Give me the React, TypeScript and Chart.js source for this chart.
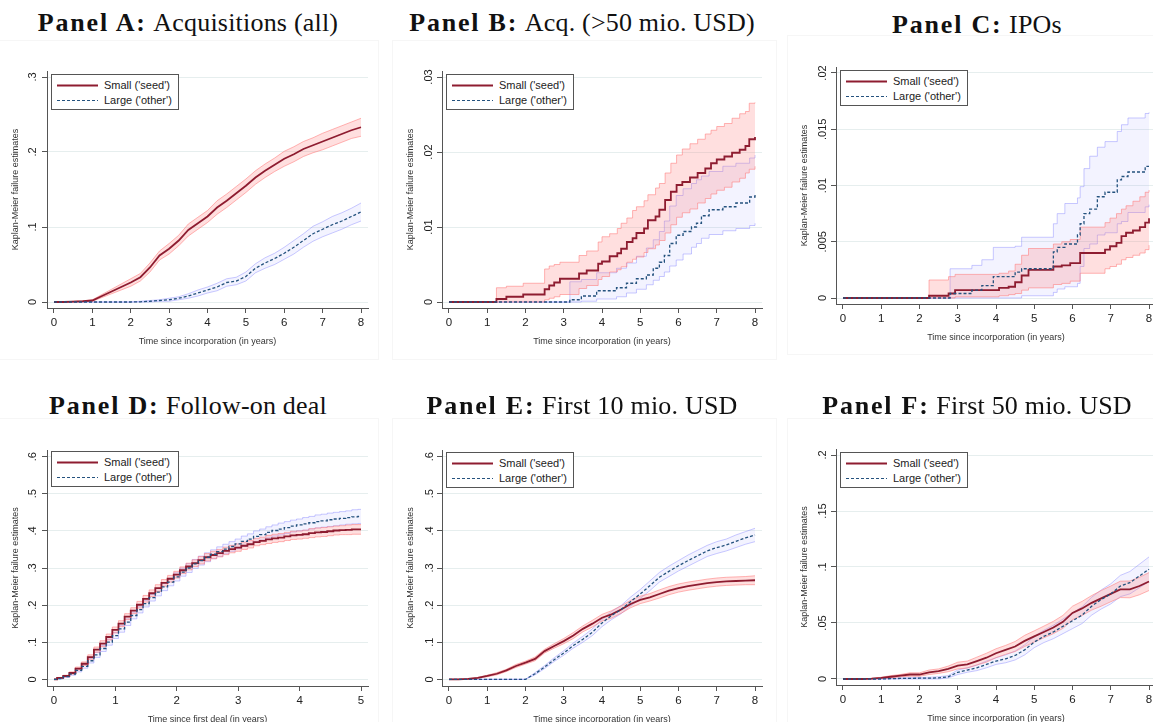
import React, { useEffect, useRef } from "react";
import { Chart, registerables } from "chart.js";
Chart.register(...registerables);
Chart.defaults.font.family = "'Liberation Sans', Arial, Helvetica, sans-serif";

// ---------- shared axes / grids ----------
const GRID_Q = [0, 0.25, 0.5, 0.75, 1, 1.25, 1.5, 1.75, 2, 2.25, 2.5, 2.75, 3, 3.25, 3.5, 3.75, 4, 4.25, 4.5, 4.75, 5, 5.25, 5.5, 5.75, 6, 6.25, 6.5, 6.75, 7, 7.25, 7.5, 7.75, 8];
const GRID_D = [0, 0.1, 0.2, 0.3, 0.4, 0.5, 0.6, 0.7, 0.8, 0.9, 1, 1.1, 1.2, 1.3, 1.4, 1.5, 1.6, 1.7, 1.8, 1.9, 2, 2.1, 2.2, 2.3, 2.4, 2.5, 2.6, 2.7, 2.8, 2.9, 3, 3.1, 3.2, 3.3, 3.4, 3.5, 3.6, 3.7, 3.8, 3.9, 4, 4.1, 4.2, 4.3, 4.4, 4.5, 4.6, 4.7, 4.8, 4.9, 5];
const X_TICKS_8 = [0, 1, 2, 3, 4, 5, 6, 7, 8];
const X_TICKS_5 = [0, 1, 2, 3, 4, 5];
const Y_TICKS_A = [0, 0.1, 0.2, 0.3];
const Y_LABELS_A = ["0", ".1", ".2", ".3"];
const Y_TICKS_B = [0, 0.01, 0.02, 0.03];
const Y_LABELS_B = ["0", ".01", ".02", ".03"];
const Y_TICKS_C = [0, 0.005, 0.01, 0.015, 0.02];
const Y_LABELS_C = ["0", ".005", ".01", ".015", ".02"];
const Y_TICKS_DE = [0, 0.1, 0.2, 0.3, 0.4, 0.5, 0.6];
const Y_LABELS_DE = ["0", ".1", ".2", ".3", ".4", ".5", ".6"];
const Y_TICKS_F = [0, 0.05, 0.1, 0.15, 0.2];
const Y_LABELS_F = ["0", ".05", ".1", ".15", ".2"];
const SERIES_NAMES = ["Small ('seed')", "Large ('other')"];
const Y_TITLE = "Kaplan-Meier failure estimates";
const X_TITLE_INC = "Time since incorporation (in years)";
const X_TITLE_FIRST = "Time since first deal (in years)";

// ---------- Panel A: Acquisitions (all) ----------
const A_SEED_EST = [0, 0, 0.0005, 0.001, 0.002, 0.008, 0.014, 0.02, 0.026, 0.033, 0.046, 0.062, 0.071, 0.082, 0.096, 0.105, 0.114, 0.126, 0.135, 0.145, 0.155, 0.166, 0.175, 0.183, 0.191, 0.197, 0.204, 0.209, 0.214, 0.219, 0.224, 0.229, 0.233];
const A_SEED_LO = [0, 0, 0, 0.0005, 0.001, 0.006, 0.011, 0.016, 0.021, 0.028, 0.04, 0.056, 0.064, 0.075, 0.088, 0.097, 0.106, 0.117, 0.126, 0.136, 0.146, 0.157, 0.166, 0.174, 0.181, 0.187, 0.194, 0.199, 0.203, 0.208, 0.213, 0.218, 0.221];
const A_SEED_HI = [0, 0, 0.001, 0.0015, 0.003, 0.01, 0.017, 0.024, 0.031, 0.038, 0.052, 0.068, 0.078, 0.089, 0.104, 0.113, 0.122, 0.135, 0.144, 0.154, 0.164, 0.175, 0.184, 0.192, 0.201, 0.207, 0.214, 0.219, 0.225, 0.23, 0.235, 0.24, 0.245];
const A_OTHER_EST = [0, 0, 0, 0, 0, 0, 0, 0, 0, 0.0003, 0.001, 0.002, 0.003, 0.005, 0.008, 0.012, 0.016, 0.02, 0.026, 0.028, 0.034, 0.045, 0.052, 0.058, 0.065, 0.073, 0.082, 0.091, 0.097, 0.103, 0.108, 0.114, 0.12];
const A_OTHER_LO = [0, 0, 0, 0, 0, 0, 0, 0, 0, 0, 0, 0.001, 0.001, 0.003, 0.005, 0.008, 0.012, 0.015, 0.021, 0.023, 0.028, 0.039, 0.045, 0.05, 0.057, 0.064, 0.073, 0.081, 0.087, 0.092, 0.097, 0.103, 0.108];
const A_OTHER_HI = [0, 0, 0, 0, 0, 0, 0, 0, 0, 0.001, 0.002, 0.003, 0.005, 0.007, 0.011, 0.016, 0.02, 0.025, 0.031, 0.033, 0.04, 0.051, 0.059, 0.065, 0.073, 0.082, 0.091, 0.101, 0.107, 0.114, 0.119, 0.125, 0.132];

// ---------- Panel B: Acq. (>50 mio. USD) ----------
const B_SEED_T = [0, 1.24, 1.5, 1.94, 2.5, 2.62, 2.75, 2.9, 3.4, 3.6, 3.9, 4.0, 4.2, 4.4, 4.5, 4.65, 4.8, 4.9, 5.1, 5.2, 5.4, 5.5, 5.65, 5.8, 5.95, 6.1, 6.3, 6.5, 6.7, 6.85, 7.0, 7.2, 7.4, 7.6, 7.75, 7.85, 8.0];
const B_SEED_EST = [0, 0.0004, 0.0007, 0.001, 0.0017, 0.0022, 0.0026, 0.0031, 0.0038, 0.0042, 0.0051, 0.0054, 0.0061, 0.0065, 0.0071, 0.008, 0.0085, 0.0092, 0.0098, 0.0109, 0.0114, 0.0123, 0.0136, 0.0147, 0.0156, 0.016, 0.0166, 0.0172, 0.0178, 0.0185, 0.019, 0.0194, 0.0199, 0.0203, 0.0208, 0.0217, 0.022];
const B_SEED_LO = [0, 0, 0, 0, 0.0003, 0.0005, 0.0007, 0.001, 0.0018, 0.0022, 0.003, 0.0034, 0.004, 0.0043, 0.0047, 0.0053, 0.0057, 0.006, 0.0066, 0.0071, 0.0076, 0.0082, 0.0092, 0.0103, 0.0113, 0.0119, 0.0124, 0.0132, 0.0138, 0.0144, 0.0149, 0.0153, 0.016, 0.0165, 0.0172, 0.0177, 0.0181];
const B_SEED_HI = [0, 0.0019, 0.0021, 0.0025, 0.0044, 0.0048, 0.005, 0.0053, 0.0062, 0.0068, 0.008, 0.0087, 0.0091, 0.0098, 0.0105, 0.0112, 0.0122, 0.0127, 0.0135, 0.0143, 0.0152, 0.0158, 0.0172, 0.0185, 0.0196, 0.0204, 0.0211, 0.0217, 0.0224, 0.0229, 0.0234, 0.0238, 0.0245, 0.0251, 0.0254, 0.0265, 0.0266];
const B_OTHER_T = [0, 3.16, 3.46, 3.86, 4.38, 4.64, 4.9, 5.16, 5.34, 5.5, 5.63, 5.77, 5.94, 6.12, 6.34, 6.47, 6.6, 6.8, 7.16, 7.5, 7.86, 8.0];
const B_OTHER_EST = [0, 0.0003, 0.0008, 0.0015, 0.0019, 0.0025, 0.0031, 0.0036, 0.0045, 0.0053, 0.0062, 0.0078, 0.0089, 0.0094, 0.01, 0.0105, 0.0115, 0.0123, 0.0127, 0.0132, 0.014, 0.0143];
const B_OTHER_LO = [0, 0, 0.0001, 0.0004, 0.0007, 0.0012, 0.0017, 0.0023, 0.0029, 0.0034, 0.004, 0.0048, 0.0056, 0.0064, 0.0073, 0.0078, 0.0085, 0.009, 0.0095, 0.0098, 0.0102, 0.0105];
const B_OTHER_HI = [0, 0.0027, 0.003, 0.0039, 0.0045, 0.0052, 0.0061, 0.0072, 0.0083, 0.0094, 0.0108, 0.0128, 0.0142, 0.0151, 0.0158, 0.0163, 0.0168, 0.0174, 0.0181, 0.0185, 0.0192, 0.0196];

// ---------- Panel C: IPOs ----------
const C_SEED_T = [0, 2.25, 2.76, 2.93, 4.08, 4.33, 4.5, 4.67, 4.85, 5.5, 5.72, 5.94, 6.2, 6.85, 6.98, 7.15, 7.28, 7.4, 7.58, 7.76, 7.9, 8.0];
const C_SEED_EST = [0, 0.0002, 0.0004, 0.0007, 0.0009, 0.001, 0.0014, 0.002, 0.0025, 0.0028, 0.0029, 0.0031, 0.004, 0.0043, 0.0046, 0.0049, 0.0055, 0.0058, 0.006, 0.0063, 0.0067, 0.0071];
const C_SEED_LO = [0, 0, 0, 0.0001, 0.0002, 0.0003, 0.0004, 0.0007, 0.0009, 0.0012, 0.0013, 0.0015, 0.0022, 0.0026, 0.0028, 0.003, 0.0034, 0.0036, 0.0038, 0.004, 0.0043, 0.0047];
const C_SEED_HI = [0, 0.0016, 0.0019, 0.0021, 0.0022, 0.0024, 0.003, 0.0038, 0.0044, 0.0048, 0.005, 0.0052, 0.0063, 0.0067, 0.0071, 0.0075, 0.0079, 0.0082, 0.0086, 0.009, 0.0094, 0.0096];
const C_OTHER_T = [0, 2.8, 3.37, 3.63, 3.93, 4.5, 4.67, 5.5, 5.6, 5.8, 6.13, 6.2, 6.3, 6.45, 6.65, 6.85, 7.17, 7.28, 7.45, 7.9, 8.0];
const C_OTHER_EST = [0, 0.0004, 0.0007, 0.0011, 0.0019, 0.0023, 0.0026, 0.0041, 0.0045, 0.0048, 0.0056, 0.0066, 0.0075, 0.0079, 0.009, 0.0094, 0.0105, 0.0108, 0.0112, 0.0117, 0.0117];
const C_OTHER_LO = [0, 0, 0, 0, 0, 0, 0.0002, 0.0005, 0.0008, 0.001, 0.0013, 0.0028, 0.0044, 0.0048, 0.0056, 0.0058, 0.0066, 0.0068, 0.0076, 0.0081, 0.0083];
const C_OTHER_HI = [0, 0.0026, 0.0029, 0.0034, 0.0045, 0.0046, 0.0054, 0.0066, 0.0075, 0.0084, 0.0089, 0.0099, 0.0115, 0.0126, 0.0134, 0.0139, 0.0148, 0.0154, 0.016, 0.0164, 0.0165];

// ---------- Panel D: Follow-on deal ----------
const D_SEED_EST = [0, 0.004, 0.009, 0.017, 0.029, 0.042, 0.06, 0.08, 0.096, 0.114, 0.133, 0.15, 0.169, 0.185, 0.201, 0.217, 0.232, 0.246, 0.26, 0.271, 0.282, 0.294, 0.304, 0.313, 0.321, 0.329, 0.335, 0.34, 0.346, 0.351, 0.355, 0.36, 0.364, 0.37, 0.373, 0.377, 0.38, 0.382, 0.385, 0.388, 0.389, 0.391, 0.394, 0.396, 0.397, 0.399, 0.401, 0.402, 0.403, 0.404, 0.404];
const D_SEED_LO = [0, 0.003, 0.007, 0.014, 0.025, 0.037, 0.054, 0.073, 0.088, 0.106, 0.125, 0.142, 0.161, 0.177, 0.192, 0.208, 0.223, 0.237, 0.251, 0.262, 0.273, 0.285, 0.295, 0.304, 0.311, 0.319, 0.325, 0.33, 0.336, 0.341, 0.345, 0.35, 0.354, 0.36, 0.363, 0.366, 0.369, 0.371, 0.374, 0.377, 0.378, 0.38, 0.382, 0.384, 0.385, 0.387, 0.389, 0.39, 0.39, 0.391, 0.391];
const D_SEED_HI = [0, 0.005, 0.011, 0.02, 0.033, 0.047, 0.066, 0.087, 0.104, 0.122, 0.141, 0.158, 0.177, 0.193, 0.21, 0.226, 0.241, 0.255, 0.269, 0.28, 0.291, 0.303, 0.313, 0.322, 0.331, 0.339, 0.345, 0.35, 0.356, 0.361, 0.365, 0.37, 0.374, 0.38, 0.383, 0.388, 0.391, 0.393, 0.396, 0.399, 0.4, 0.402, 0.406, 0.408, 0.409, 0.411, 0.413, 0.414, 0.416, 0.417, 0.417];
const D_OTHER_EST = [0, 0.002, 0.007, 0.014, 0.024, 0.035, 0.05, 0.066, 0.083, 0.1, 0.118, 0.136, 0.154, 0.172, 0.188, 0.204, 0.22, 0.235, 0.249, 0.262, 0.276, 0.289, 0.3, 0.311, 0.32, 0.329, 0.337, 0.344, 0.351, 0.358, 0.365, 0.372, 0.378, 0.385, 0.39, 0.396, 0.401, 0.405, 0.409, 0.413, 0.416, 0.419, 0.422, 0.425, 0.427, 0.43, 0.432, 0.434, 0.436, 0.438, 0.439];
const D_OTHER_LO = [0, 0.001, 0.005, 0.011, 0.02, 0.03, 0.044, 0.059, 0.075, 0.092, 0.11, 0.127, 0.145, 0.163, 0.179, 0.195, 0.211, 0.225, 0.239, 0.252, 0.265, 0.278, 0.288, 0.299, 0.308, 0.317, 0.325, 0.331, 0.338, 0.345, 0.352, 0.358, 0.364, 0.37, 0.375, 0.381, 0.386, 0.389, 0.393, 0.397, 0.4, 0.402, 0.405, 0.408, 0.41, 0.412, 0.414, 0.416, 0.418, 0.419, 0.42];
const D_OTHER_HI = [0, 0.003, 0.009, 0.017, 0.028, 0.04, 0.056, 0.073, 0.091, 0.108, 0.126, 0.145, 0.163, 0.181, 0.197, 0.213, 0.229, 0.245, 0.259, 0.272, 0.287, 0.3, 0.312, 0.323, 0.332, 0.341, 0.349, 0.357, 0.364, 0.371, 0.378, 0.386, 0.392, 0.4, 0.405, 0.411, 0.416, 0.421, 0.425, 0.429, 0.432, 0.436, 0.439, 0.443, 0.445, 0.448, 0.45, 0.452, 0.454, 0.457, 0.458];

// ---------- Panel E: First 10 mio. USD ----------
const E_SEED_EST = [0, 0, 0.001, 0.004, 0.009, 0.015, 0.024, 0.036, 0.045, 0.055, 0.076, 0.09, 0.103, 0.118, 0.136, 0.15, 0.166, 0.175, 0.188, 0.203, 0.214, 0.221, 0.23, 0.239, 0.246, 0.251, 0.255, 0.259, 0.262, 0.264, 0.265, 0.266, 0.267];
const E_SEED_LO = [0, 0, 0, 0.003, 0.007, 0.012, 0.021, 0.032, 0.041, 0.05, 0.071, 0.084, 0.096, 0.11, 0.128, 0.141, 0.157, 0.165, 0.178, 0.193, 0.204, 0.211, 0.219, 0.228, 0.235, 0.24, 0.244, 0.248, 0.251, 0.253, 0.254, 0.255, 0.255];
const E_SEED_HI = [0, 0, 0.002, 0.005, 0.011, 0.018, 0.027, 0.04, 0.049, 0.06, 0.081, 0.096, 0.11, 0.126, 0.144, 0.159, 0.175, 0.185, 0.198, 0.213, 0.224, 0.231, 0.241, 0.25, 0.257, 0.262, 0.266, 0.27, 0.273, 0.275, 0.276, 0.277, 0.279];
const E_OTHER_EST = [0, 0, 0, 0, 0, 0, 0, 0, 0, 0.015, 0.033, 0.053, 0.071, 0.091, 0.108, 0.127, 0.152, 0.172, 0.188, 0.21, 0.23, 0.252, 0.275, 0.291, 0.306, 0.32, 0.333, 0.346, 0.355, 0.362, 0.372, 0.381, 0.389];
const E_OTHER_LO = [0, 0, 0, 0, 0, 0, 0, 0, 0, 0.012, 0.029, 0.048, 0.065, 0.084, 0.1, 0.118, 0.142, 0.161, 0.177, 0.198, 0.218, 0.239, 0.262, 0.277, 0.292, 0.305, 0.318, 0.331, 0.339, 0.346, 0.355, 0.364, 0.371];
const E_OTHER_HI = [0, 0, 0, 0, 0, 0, 0, 0, 0, 0.018, 0.037, 0.058, 0.077, 0.098, 0.116, 0.136, 0.162, 0.183, 0.199, 0.222, 0.242, 0.265, 0.288, 0.305, 0.32, 0.335, 0.348, 0.361, 0.371, 0.378, 0.389, 0.398, 0.407];

// ---------- Panel F: First 50 mio. USD ----------
const F_SEED_EST = [0, 0, 0, 0.0003, 0.001, 0.002, 0.003, 0.004, 0.004, 0.006, 0.007, 0.009, 0.012, 0.013, 0.016, 0.019, 0.023, 0.026, 0.029, 0.034, 0.038, 0.042, 0.046, 0.051, 0.059, 0.063, 0.068, 0.072, 0.076, 0.08, 0.08, 0.083, 0.087];
const F_SEED_LO = [0, 0, 0, 0, 0.0005, 0.001, 0.002, 0.0025, 0.0025, 0.004, 0.005, 0.0065, 0.009, 0.0098, 0.0125, 0.015, 0.019, 0.022, 0.0245, 0.029, 0.033, 0.0368, 0.0405, 0.0452, 0.053, 0.0567, 0.0615, 0.065, 0.069, 0.0727, 0.0725, 0.0752, 0.079];
const F_SEED_HI = [0, 0, 0, 0.0006, 0.0015, 0.003, 0.004, 0.0055, 0.0055, 0.008, 0.009, 0.0115, 0.015, 0.016, 0.0195, 0.023, 0.027, 0.03, 0.0335, 0.039, 0.043, 0.0472, 0.0515, 0.0568, 0.065, 0.0693, 0.0745, 0.079, 0.083, 0.0873, 0.0875, 0.0908, 0.095];
const F_OTHER_EST = [0, 0, 0, 0, 0, 0.0003, 0.0005, 0.0006, 0.0007, 0.0007, 0.001, 0.002, 0.006, 0.008, 0.01, 0.013, 0.016, 0.018, 0.021, 0.026, 0.033, 0.038, 0.042, 0.047, 0.052, 0.057, 0.065, 0.071, 0.076, 0.083, 0.086, 0.092, 0.098];
const F_OTHER_LO = [0, 0, 0, 0, 0, 0, 0, 0, 0, 0, 0, 0.001, 0.004, 0.006, 0.0075, 0.01, 0.013, 0.0145, 0.017, 0.0215, 0.028, 0.0325, 0.036, 0.0405, 0.045, 0.0495, 0.057, 0.0625, 0.067, 0.0735, 0.076, 0.0815, 0.087];
const F_OTHER_HI = [0, 0, 0, 0, 0, 0.0006, 0.001, 0.0012, 0.0014, 0.0015, 0.002, 0.003, 0.008, 0.01, 0.0125, 0.016, 0.019, 0.0215, 0.025, 0.0305, 0.038, 0.0435, 0.048, 0.0535, 0.059, 0.0645, 0.073, 0.0795, 0.085, 0.0925, 0.096, 0.1025, 0.109];

// ---------- styles ----------
const RED = "#8e1c30";
const BLUE = "#24527e";
const RED_FILL = "rgba(255,120,120,0.24)";
const RED_EDGE = "rgba(255,120,120,0.55)";
const BLUE_FILL = "rgba(140,140,255,0.10)";
const BLUE_EDGE = "rgba(120,120,255,0.40)";
const GRID = "#e6eeee";
const AXIS = "#555";

type Series = { t: number[]; est: number[]; lo: number[]; hi: number[] };
type PanelCfg = {
  bold: string; rest: string; titleCx: number; titleTop: number;
  L: number; T: number; R: number; B: number;
  xMin: number; xMax: number; xTicks: number[];
  yMin: number; yMax: number; yTicks: number[]; yLabels: string[];
  yPad: number; xTitle: string; legendTop: number;
  frame: number[];
  stepped: any; seed: Series; other: Series;
};

const PANELS: PanelCfg[] = [
  { bold: "Panel A:", rest: "Acquisitions (all)", titleCx: 188, titleTop: 8, L: 47, T: 71, R: 368, B: 308,
    xMin: -0.1824, xMax: 8.1824, xTicks: X_TICKS_8, yMin: -0.008, yMax: 0.308, yTicks: Y_TICKS_A, yLabels: Y_LABELS_A,
    yPad: 4.4, xTitle: X_TITLE_INC, legendTop: 74, frame: [-1, 40, 380, 320], stepped: false,
    seed: { t: GRID_Q, est: A_SEED_EST, lo: A_SEED_LO, hi: A_SEED_HI },
    other: { t: GRID_Q, est: A_OTHER_EST, lo: A_OTHER_LO, hi: A_OTHER_HI } },
  { bold: "Panel B:", rest: "Acq. (>50 mio. USD)", titleCx: 582, titleTop: 8, L: 442, T: 71, R: 762, B: 308,
    xMin: -0.183, xMax: 8.183, xTicks: X_TICKS_8, yMin: -0.0008, yMax: 0.0308, yTicks: Y_TICKS_B, yLabels: Y_LABELS_B,
    yPad: 0, xTitle: X_TITLE_INC, legendTop: 74, frame: [392, 40, 385, 320], stepped: true,
    seed: { t: B_SEED_T, est: B_SEED_EST, lo: B_SEED_LO, hi: B_SEED_HI },
    other: { t: B_OTHER_T, est: B_OTHER_EST, lo: B_OTHER_LO, hi: B_OTHER_HI } },
  { bold: "Panel C:", rest: "IPOs", titleCx: 977, titleTop: 10, L: 836, T: 67, R: 1156, B: 304,
    xMin: -0.183, xMax: 8.183, xTicks: X_TICKS_8, yMin: -0.000533, yMax: 0.020533, yTicks: Y_TICKS_C, yLabels: Y_LABELS_C,
    yPad: -2.5, xTitle: X_TITLE_INC, legendTop: 70, frame: [787, 35, 380, 320], stepped: true,
    seed: { t: C_SEED_T, est: C_SEED_EST, lo: C_SEED_LO, hi: C_SEED_HI },
    other: { t: C_OTHER_T, est: C_OTHER_EST, lo: C_OTHER_LO, hi: C_OTHER_HI } },
  { bold: "Panel D:", rest: "Follow-on deal", titleCx: 188, titleTop: 391, L: 47, T: 450, R: 368, B: 686,
    xMin: -0.114, xMax: 5.114, xTicks: X_TICKS_5, yMin: -0.018, yMax: 0.618, yTicks: Y_TICKS_DE, yLabels: Y_LABELS_DE,
    yPad: 4.4, xTitle: X_TITLE_FIRST, legendTop: 451, frame: [-1, 418, 380, 320], stepped: "middle",
    seed: { t: GRID_D, est: D_SEED_EST, lo: D_SEED_LO, hi: D_SEED_HI },
    other: { t: GRID_D, est: D_OTHER_EST, lo: D_OTHER_LO, hi: D_OTHER_HI } },
  { bold: "Panel E:", rest: "First 10 mio. USD", titleCx: 582, titleTop: 391, L: 442, T: 450, R: 762, B: 686,
    xMin: -0.183, xMax: 8.183, xTicks: X_TICKS_8, yMin: -0.018, yMax: 0.618, yTicks: Y_TICKS_DE, yLabels: Y_LABELS_DE,
    yPad: 2.4, xTitle: X_TITLE_INC, legendTop: 452, frame: [392, 418, 385, 320], stepped: false,
    seed: { t: GRID_Q, est: E_SEED_EST, lo: E_SEED_LO, hi: E_SEED_HI },
    other: { t: GRID_Q, est: E_OTHER_EST, lo: E_OTHER_LO, hi: E_OTHER_HI } },
  { bold: "Panel F:", rest: "First 50 mio. USD", titleCx: 977, titleTop: 391, L: 836, T: 449, R: 1156, B: 685,
    xMin: -0.183, xMax: 8.183, xTicks: X_TICKS_8, yMin: -0.00536, yMax: 0.20536, yTicks: Y_TICKS_F, yLabels: Y_LABELS_F,
    yPad: 0.4, xTitle: X_TITLE_INC, legendTop: 452, frame: [787, 418, 380, 320], stepped: false,
    seed: { t: GRID_Q, est: F_SEED_EST, lo: F_SEED_LO, hi: F_SEED_HI },
    other: { t: GRID_Q, est: F_OTHER_EST, lo: F_OTHER_LO, hi: F_OTHER_HI } },
];

const PAD_L = 4, YW = 43, PAD_T = 31, PAD_R = 17, PAD_B = 8, XH = 42;

function pts(t: number[], v: number[]) {
  return t.map((x, i) => ({ x, y: v[i] }));
}

function Panel({ p }: { p: PanelCfg }) {
  const ref = useRef<HTMLCanvasElement>(null);
  const W = p.R - p.L + PAD_L + YW + PAD_R;
  const H = p.B - p.T + PAD_T + PAD_B + XH;
  useEffect(() => {
    const base = { pointRadius: 0, pointHoverRadius: 0, tension: 0, stepped: p.stepped };
    const chart = new Chart(ref.current as HTMLCanvasElement, {
      type: "line",
      data: {
        datasets: [
          { ...base, label: "seed hi", data: pts(p.seed.t, p.seed.hi), borderColor: RED_EDGE, borderWidth: 1, backgroundColor: RED_FILL, fill: "+1", order: 2 },
          { ...base, label: "seed lo", data: pts(p.seed.t, p.seed.lo), borderColor: RED_EDGE, borderWidth: 1, fill: false, order: 2 },
          { ...base, label: "other hi", data: pts(p.other.t, p.other.hi), borderColor: BLUE_EDGE, borderWidth: 1, backgroundColor: BLUE_FILL, fill: "+1", order: 3 },
          { ...base, label: "other lo", data: pts(p.other.t, p.other.lo), borderColor: BLUE_EDGE, borderWidth: 1, fill: false, order: 3 },
          { ...base, label: SERIES_NAMES[0], data: pts(p.seed.t, p.seed.est), borderColor: RED, borderWidth: 1.8, fill: false, order: 1 },
          { ...base, label: SERIES_NAMES[1], data: pts(p.other.t, p.other.est), borderColor: BLUE, borderWidth: 1.3, borderDash: [3, 2], fill: false, order: 0 },
        ] as any,
      },
      options: {
        responsive: false,
        animation: false,
        devicePixelRatio: 1,
        events: [],
        layout: { padding: { left: PAD_L, top: PAD_T, right: PAD_R, bottom: PAD_B } },
        plugins: { legend: { display: false }, tooltip: { enabled: false }, title: { display: false } },
        scales: {
          x: {
            type: "linear", min: p.xMin, max: p.xMax, bounds: "data",
            afterBuildTicks: (s: any) => { s.ticks = p.xTicks.map((v) => ({ value: v })); },
            afterFit: (s: any) => { s.height = XH; },
            grid: { drawOnChartArea: false, drawTicks: true, tickLength: 5, tickColor: AXIS, tickWidth: 1 },
            border: { display: true, color: AXIS, width: 1 },
            ticks: { color: "#222", font: { size: 11.5 }, padding: 3, maxRotation: 0, autoSkip: false,
              callback: (v: any) => String(v) },
            title: { display: true, text: p.xTitle, color: "#333", font: { size: 9 }, padding: { top: 0, bottom: 3 } },
          },
          y: {
            type: "linear", min: p.yMin, max: p.yMax, bounds: "data",
            afterBuildTicks: (s: any) => { s.ticks = p.yTicks.map((v) => ({ value: v })); },
            afterFit: (s: any) => { s.width = YW; },
            grid: { color: GRID, lineWidth: 1, drawTicks: true, tickLength: 5, tickColor: AXIS, tickWidth: 1 },
            border: { display: true, color: AXIS, width: 1 },
            ticks: { color: "#222", font: { size: 11 }, padding: p.yPad, minRotation: 90, maxRotation: 90,
              crossAlign: "center", autoSkip: false,
              callback: (_v: any, i: number) => p.yLabels[i] },
            title: { display: true, text: Y_TITLE, color: "#333", font: { size: 9 }, padding: { top: 6, bottom: 0 } },
          },
        },
      } as any,
    });
    return () => chart.destroy();
  }, []);

  const lx = p.L + 4;
  return (
    <>
      <div style={{ position: "absolute", left: p.frame[0], top: p.frame[1], width: p.frame[2], height: p.frame[3],
        border: "1px solid #f6f6f6", boxSizing: "border-box" }} />
      <div style={{ position: "absolute", left: p.titleCx - 250, width: 500, top: p.titleTop, textAlign: "center",
        fontFamily: "'Liberation Serif', 'Times New Roman', serif", fontSize: 26, lineHeight: "30px", color: "#111", whiteSpace: "nowrap" }}>
        <b style={{ letterSpacing: "1.8px" }}>{p.bold}</b>{" "}<span style={{ letterSpacing: "0.2px" }}>{p.rest}</span>
      </div>
      <canvas ref={ref} width={W} height={H}
        style={{ position: "absolute", left: p.L - PAD_L - YW, top: p.T - PAD_T, width: W, height: H }} />
      <div style={{ position: "absolute", left: lx, top: p.legendTop, width: 126, height: 34, border: "1px solid #555",
        background: "#fff", fontFamily: "'Liberation Sans', Arial, sans-serif", fontSize: 11, color: "#222" }}>
        <svg width={46} height={34} style={{ position: "absolute", left: 0, top: 0 }}>
          <line x1={5} y1={10.5} x2={46} y2={10.5} stroke={RED} strokeWidth={1.8} />
          <line x1={5} y1={25.5} x2={46} y2={25.5} stroke={BLUE} strokeWidth={1.2} strokeDasharray="3,2" />
        </svg>
        <div style={{ position: "absolute", left: 52, top: 3, lineHeight: "15px", whiteSpace: "nowrap" }}>{SERIES_NAMES[0]}</div>
        <div style={{ position: "absolute", left: 52, top: 18, lineHeight: "15px", whiteSpace: "nowrap" }}>{SERIES_NAMES[1]}</div>
      </div>
    </>
  );
}

export default function App() {
  return (
    <div style={{ position: "absolute", left: 0, top: 0, width: 1153, height: 722, overflow: "hidden", background: "#fff" }}>
      {PANELS.map((p, i) => <Panel key={i} p={p} />)}
    </div>
  );
}
